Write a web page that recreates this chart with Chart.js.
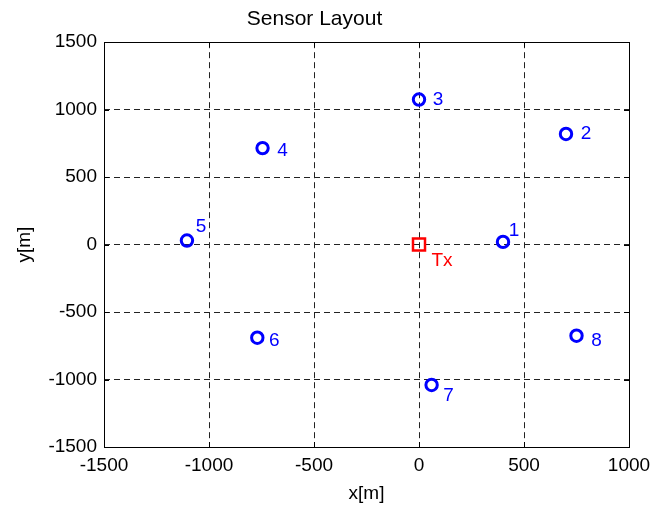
<!DOCTYPE html>
<html>
<head>
<meta charset="utf-8">
<script src="https://cdn.jsdelivr.net/npm/chart.js@4.4.1/dist/chart.umd.min.js"></script>
<style>
  html, body { margin: 0; padding: 0; background: #fff; }
  #wrap { width: 654px; height: 508px; }
</style>
</head>
<body>
<div id="wrap"><canvas id="layout" width="654" height="508"></canvas></div>
<script>
// sensor positions (m)
var sensorX = [400, 700, 0, -745, -1105, -770, 60, 750];
var sensorY = [20, 820, 1075, 715, 30, -690, -1040, -675];
var sensorNames = ["1", "2", "3", "4", "5", "6", "7", "8"];
// label offsets in pixels from each marker
var labelDx = [11, 20, 19, 20, 14, 17, 17, 20];
var labelDy = [-11, 0, 0, 3, -14, 3, 11, 5];
// transmitter
var txX = [0];
var txY = [0];
var txName = "Tx";
// axis ticks
var xTicks = [-1500, -1000, -500, 0, 500, 1000];
var yTicks = [-1500, -1000, -500, 0, 500, 1000, 1500];

var fontFam = "'Liberation Sans', Arial, sans-serif";

var sensorPts = sensorX.map(function (x, i) { return { x: x, y: sensorY[i] }; });
var txPts = txX.map(function (x, i) { return { x: x, y: txY[i] }; });

// box around plot, inward tick marks and point labels
var boxPlugin = {
    id: "boxPlugin",
    afterDatasetsDraw: function (chart) {
        var ctx = chart.ctx;
        var a = chart.chartArea;
        var xs = chart.scales.x, ys = chart.scales.y;
        ctx.save();
        ctx.strokeStyle = "#000";
        ctx.lineWidth = 1;
        ctx.setLineDash([]);
        ctx.strokeRect(Math.round(a.left) + 0.5, Math.round(a.top) + 0.5,
            Math.round(a.right - a.left), Math.round(a.bottom - a.top));
        ctx.beginPath();
        xTicks.forEach(function (t) {
            var px = Math.round(xs.getPixelForValue(t)) + 0.5;
            ctx.moveTo(px, a.bottom); ctx.lineTo(px, a.bottom - 5);
            ctx.moveTo(px, a.top); ctx.lineTo(px, a.top + 5);
        });
        yTicks.forEach(function (t) {
            var py = Math.round(ys.getPixelForValue(t)) + 0.5;
            ctx.moveTo(a.left, py); ctx.lineTo(a.left + 5, py);
            ctx.moveTo(a.right, py); ctx.lineTo(a.right - 5, py);
        });
        ctx.stroke();

        ctx.font = "19px " + fontFam;
        ctx.textAlign = "center";
        ctx.textBaseline = "middle";
        ctx.fillStyle = "#0000ff";
        sensorNames.forEach(function (n, i) {
            var px = xs.getPixelForValue(sensorX[i]) + labelDx[i];
            var py = ys.getPixelForValue(sensorY[i]) + labelDy[i];
            ctx.fillText(n, px, py);
        });
        ctx.fillStyle = "#ff0000";
        ctx.fillText(txName, xs.getPixelForValue(txX[0]) + 23, ys.getPixelForValue(txY[0]) + 16);
        ctx.restore();
    }
};

var ctx = document.getElementById("layout").getContext("2d");
var chart = new Chart(ctx, {
    type: "scatter",
    data: {
        datasets: [
            {
                label: "Sensors",
                data: sensorPts,
                pointStyle: "circle",
                pointRadius: 5.7,
                borderWidth: 3,
                borderColor: "#0000ff",
                backgroundColor: "rgba(0,0,0,0)"
            },
            {
                label: "Tx",
                data: txPts,
                pointStyle: "rect",
                pointRadius: 8.5,
                borderWidth: 2.5,
                borderColor: "#ff0000",
                backgroundColor: "rgba(0,0,0,0)"
            }
        ]
    },
    options: {
        responsive: false,
        animation: false,
        devicePixelRatio: 1,
        layout: { padding: { left: 0, right: 25, top: 0, bottom: 0 } },
        plugins: {
            legend: { display: false },
            tooltip: { enabled: false },
            title: {
                display: true,
                text: "Sensor Layout",
                color: "#000",
                font: { family: fontFam, size: 21, weight: "normal" },
                padding: { top: 7, bottom: 10 }
            }
        },
        scales: {
            x: {
                type: "linear",
                min: -1500,
                max: 1000,
                afterBuildTicks: function (s) { s.ticks = xTicks.map(function (v) { return { value: v }; }); },
                afterFit: function (s) { s.height = 61; s.paddingRight = 0; s.paddingLeft = 0; },
                ticks: {
                    color: "#000",
                    font: { family: fontFam, size: 19 },
                    padding: 7,
                    maxRotation: 0,
                    callback: function (v) { return String(v); }
                },
                grid: { color: "#222", lineWidth: 1, drawTicks: false },
                border: { display: false, dash: [6, 4] },
                title: {
                    display: true,
                    text: "x[m]",
                    color: "#000",
                    font: { family: fontFam, size: 19 },
                    padding: { top: 2, bottom: 3 }
                }
            },
            y: {
                type: "linear",
                min: -1500,
                max: 1500,
                afterBuildTicks: function (s) { s.ticks = yTicks.map(function (v) { return { value: v }; }); },
                afterFit: function (s) { s.width = 104; },
                ticks: {
                    color: "#000",
                    font: { family: fontFam, size: 19 },
                    padding: 7,
                    callback: function (v) { return String(v); }
                },
                grid: { color: "#222", lineWidth: 1, drawTicks: false },
                border: { display: false, dash: [6, 4] },
                title: {
                    display: true,
                    text: "y[m]",
                    color: "#000",
                    font: { family: fontFam, size: 19 },
                    padding: { top: 13, bottom: 2 }
                }
            }
        }
    },
    plugins: [boxPlugin]
});
</script>
</body>
</html>
